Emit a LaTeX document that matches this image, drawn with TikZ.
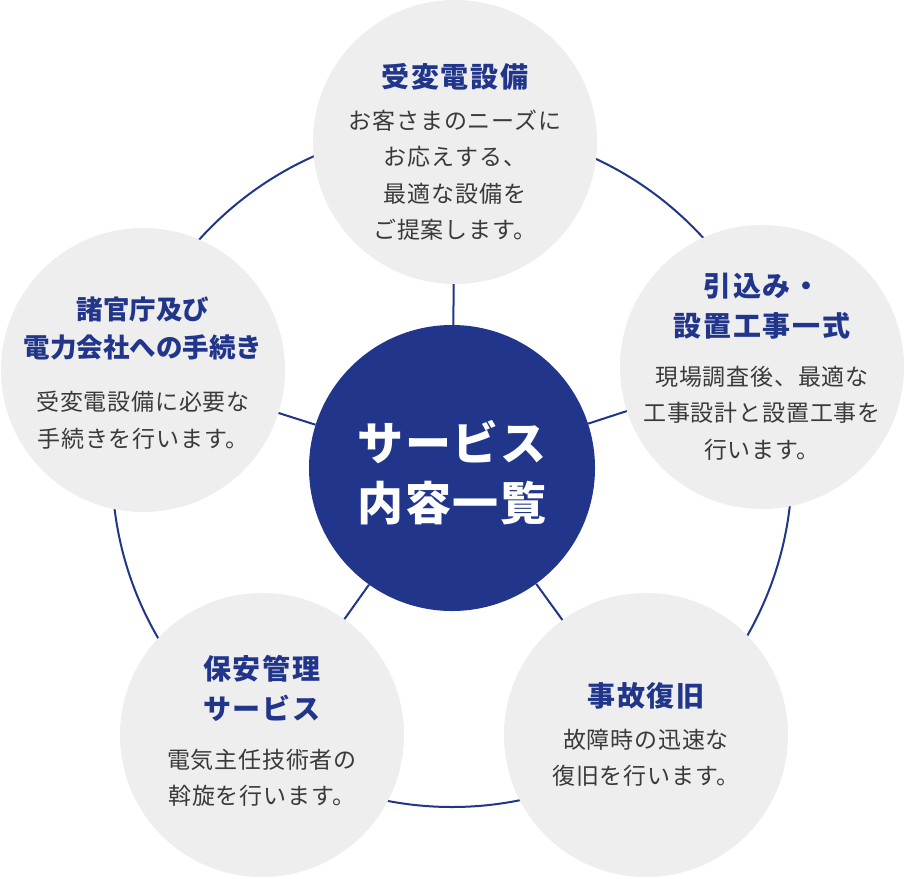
\documentclass[tikz,border=0pt]{standalone}
\usepackage{fontspec}
\setmainfont{Noto Sans CJK JP}
\usetikzlibrary{backgrounds}
\definecolor{navy}{HTML}{21358A}
\definecolor{pale}{HTML}{EEEEEE}
\definecolor{inkgray}{HTML}{3A3A3A}
\begin{document}
\begin{tikzpicture}[x=1pt,y=-1pt,
  outer/.style={circle,fill=pale,minimum size=284pt,inner sep=0pt},
  hub/.style={circle,fill=navy,minimum size=286pt,inner sep=0pt},
  link/.style={draw=navy,line width=2pt},
  ttl/.style={text=navy,align=center,inner sep=0pt,
    font=\bfseries\fontsize{28}{40}\selectfont\addfontfeatures{LetterSpace=7}},
  ttlnarrow/.style={text=navy,align=center,inner sep=0pt,
    font=\bfseries\fontsize{26.5}{38}\selectfont},
  bodytext/.style={text=inkgray,align=center,inner sep=0pt,
    font=\fontsize{23}{36.5}\selectfont\addfontfeatures{LetterSpace=3.5}},
  hubtext/.style={text=white,align=center,inner sep=0pt,
    font=\bfseries\fontsize{46}{60}\selectfont\addfontfeatures{LetterSpace=3}}]
\useasboundingbox (0,0) rectangle (904,878);
% circles
\node[hub] (hub) at (452,468) {};
\node[outer] (o1) at (455,142) {};
\node[outer] (o2) at (762,367) {};
\node[outer] (o3) at (143,370) {};
\node[outer] (o4) at (262,735) {};
\node[outer] (o5) at (646,735) {};
% ring behind
\begin{scope}[on background layer]
  \fill[white] (0,0) rectangle (904,878);
  \draw[link] (452,467) circle[radius=340];
\end{scope}
% spokes
\draw[link] (hub) -- (o1);
\draw[link] (hub) -- (o2);
\draw[link] (hub) -- (o3);
\draw[link] (hub) -- (o4);
\draw[link] (hub) -- (o5);
% texts
\node[hubtext] (ht) at (452,473) {サービス\\内容一覧};
\node[ttl] (t1) at (455,77) {受変電設備};
\node[bodytext] (b1) at (455,175) {お客さまのニーズに\\お応えする、\\最適な設備を\\ご提案します。};
\node[ttl] (t2) at (762,306) {引込み・\\設置工事一式};
\node[bodytext] (b2) at (762,413) {現場調査後、最適な\\工事設計と設置工事を\\行います。};
\node[ttlnarrow] (t3) at (143,329) {諸官庁及び\\電力会社への手続き};
\node[bodytext] (b3) at (143,420) {受変電設備に必要な\\手続きを行います。};
\node[ttl] (t4) at (262,688) {保安管理\\サービス};
\node[bodytext] (b4) at (262,778) {電気主任技術者の\\斡旋を行います。};
\node[ttl] (t5) at (646,696) {事故復旧};
\node[bodytext] (b5) at (646,758) {故障時の迅速な\\復旧を行います。};
\end{tikzpicture}
\end{document}
